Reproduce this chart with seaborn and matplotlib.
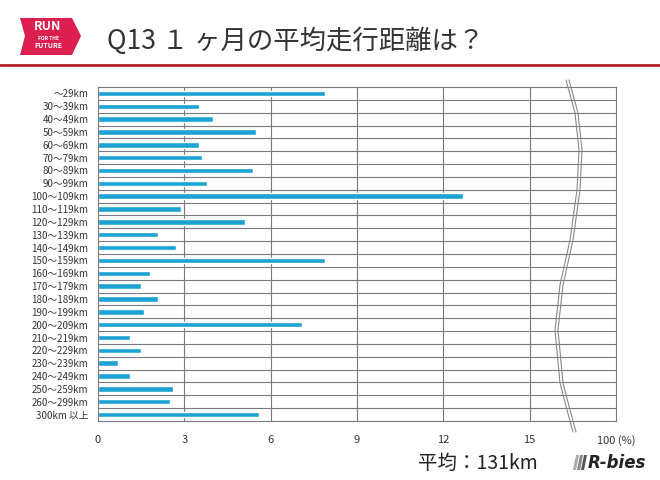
import matplotlib
matplotlib.use("Agg")
import matplotlib.pyplot as plt
from matplotlib.lines import Line2D
from matplotlib.patches import Polygon
import numpy as np
import pandas as pd
import seaborn as sns

# --- data ---
ranges = ["～29km", "30～39km", "40～49km", "50～59km", "60～69km", "70～79km",
          "80～89km", "90～99km", "100～109km", "110～119km", "120～129km",
          "130～139km", "140～149km", "150～159km", "160～169km", "170～179km",
          "180～189km", "190～199km", "200～209km", "210～219km", "220～229km",
          "230～239km", "240～249km", "250～259km", "260～299km", "300km 以上"]
percent = [7.9, 3.5, 4.0, 5.5, 3.5, 3.6, 5.4, 3.8, 12.7, 2.9, 5.1, 2.1, 2.7,
           7.9, 1.8, 1.5, 2.1, 1.6, 7.1, 1.1, 1.5, 0.7, 1.1, 2.6, 2.5, 5.6]
x_ticks = [0, 3, 6, 9, 12, 15, 18]
x_tick_labels = ["0", "3", "6", "9", "12", "15", "100 (%)"]

title = "Q13 １ ヶ月の平均走行距離は？"
average_text = "平均：131km"

bar_color = "#1ba3d3"
grid_color = "#7a7a7a"
text_color = "#333333"

sns.set_style("white")
plt.rcParams["font.family"] = ["Noto Sans CJK JP", "DejaVu Sans"]

df = pd.DataFrame({"range": ranges, "percent": percent})

fig = plt.figure(figsize=(6.6, 4.8), dpi=100)
ax = fig.add_axes([98 / 660, 1 - 421 / 480, (616 - 98) / 660, (421 - 87) / 480])

sns.barplot(data=df, x="percent", y="range", orient="h", color=bar_color,
            width=0.42, saturation=1, ax=ax)

ax.set_xlim(0, 18)
ax.set_ylim(len(ranges) - 0.5, -0.5)
ax.set_xlabel("")
ax.set_ylabel("")

# grid: vertical at the ticks, horizontal between the rows
for v in x_ticks[1:-1]:
    ax.axvline(v, color=grid_color, lw=0.8, zorder=0)
for b in np.arange(0.5, len(ranges) - 0.5, 1):
    ax.axhline(b, color=grid_color, lw=0.8, zorder=0)
for s in ax.spines.values():
    s.set_color(grid_color)
    s.set_linewidth(0.8)

ax.set_xticks(x_ticks)
ax.set_xticklabels(x_tick_labels, fontsize=8, color=text_color)
ax.tick_params(axis="x", length=0, pad=10)
ax.tick_params(axis="y", length=0, pad=7, labelsize=7, labelcolor=text_color)

# axis break (double wavy line)
wave_px = [(566, 80), (575, 113), (579, 150), (577, 190), (570, 240), (560, 285),
           (555, 330), (560, 383), (567, 410), (573, 432)]
for off in (0, 3):
    xs = [(px + off) / 660 for px, py in wave_px]
    ys = [1 - py / 480 for px, py in wave_px]
    fig.add_artist(Line2D(xs, ys, color="#888888", lw=0.8, transform=fig.transFigure))

# header
fig.add_artist(Line2D([0, 1], [1 - 65 / 480, 1 - 65 / 480], color="#b3222a", lw=2,
                      transform=fig.transFigure))
fig.text(107 / 660, 1 - 41 / 480, title, fontsize=19, color=text_color, va="center")

# logo
logo_px = [(20, 18), (72, 18), (81, 36), (72, 55), (20, 55), (25, 36)]
fig.add_artist(Polygon([(x / 660, 1 - y / 480) for x, y in logo_px], closed=True,
                       facecolor="#dc1f4f", edgecolor="none", transform=fig.transFigure))
fig.text(48 / 660, 1 - 27 / 480, "RUN", fontsize=9, fontweight="bold", color="white",
         ha="center", va="center")
fig.text(48 / 660, 1 - 38 / 480, "FOR THE", fontsize=3.5, fontweight="bold", color="white",
         ha="center", va="center")
fig.text(48 / 660, 1 - 45 / 480, "FUTURE", fontsize=5, fontweight="bold", color="white",
         ha="center", va="center")

# footer
fig.text(418 / 660, 1 - 463 / 480, average_text, fontsize=14, color="#222222", va="center")
for i, c in enumerate(["#aaaaaa", "#888888", "#555555"]):
    x0 = 573 + i * 4
    bar_px = [(x0, 470), (x0 + 3, 470), (x0 + 6, 455), (x0 + 3, 455)]
    fig.add_artist(Polygon([(x / 660, 1 - y / 480) for x, y in bar_px], closed=True,
                           facecolor=c, edgecolor="none", transform=fig.transFigure))
fig.text(588 / 660, 1 - 463 / 480, "R-bies", fontsize=12, fontweight="bold",
         fontstyle="italic", color="#222222", va="center", family=["DejaVu Sans"])

fig.savefig("out.png", dpi=100)
